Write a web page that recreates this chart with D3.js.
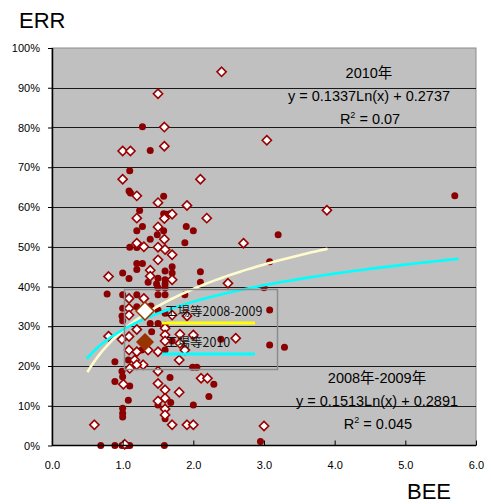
<!DOCTYPE html>
<html lang="ja">
<head>
<meta charset="UTF-8">
<title>BEE - ERR</title>
<script src="https://d3js.org/d3.v7.min.js"></script>
<style>
  body { margin: 0; background: #fff; }
  svg text { font-family: "Liberation Sans", Arial, "Noto Sans CJK JP", sans-serif; }
  .axis path { display: none; }
  .axis line { stroke: #000; }
  .axis text { font-size: 11px; fill: #000; font-family: "Liberation Sans", Arial, sans-serif; }
  .grid line { stroke: #1a1a1a; shape-rendering: crispEdges; }
  .note { font-size: 14.5px; fill: #000; }
  .legend text { font-size: 12.5px; fill: #111; font-family: "Noto Sans CJK JP", sans-serif; }
  .title { font-size: 22px; fill: #000; }
</style>
</head>
<body>
<svg id="chart" width="491" height="504"></svg>
<script>
// axis ticks
const xTicks = [0, 1, 2, 3, 4, 5, 6];
const yTicks = [0, 10, 20, 30, 40, 50, 60, 70, 80, 90, 100];

// 工場等2008-2009 : [BEE, ERR %]
const data0809 = [
  [2.40,94.0],[1.50,88.5],[1.59,80.1],[1.00,74.1],[1.11,74.1],[1.59,75.3],[1.00,67.0],[2.10,67.0],
  [1.20,62.8],[1.50,61.1],[1.91,60.4],[2.19,57.2],[1.20,57.2],[1.70,58.2],[1.59,57.1],[1.50,55.0],
  [1.59,51.9],[2.71,50.9],[1.20,50.9],[1.30,50.0],[1.50,49.9],[3.04,76.8],[3.89,59.2],
  [1.60,49.3],[1.70,48.0],[1.50,46.7],[1.39,44.1],[0.80,42.5],[1.39,42.6],[1.70,41.7],[2.49,40.8],
  [1.09,37.0],[1.30,37.0],[1.09,34.5],[1.09,32.8],[1.70,32.8],[1.91,32.6],[1.60,29.5],[1.20,29.2],
  [0.80,27.5],[1.09,27.4],[1.60,27.8],[1.60,26.3],[1.81,28.0],[2.00,27.8],[1.81,25.7],[0.99,26.7],
  [2.60,27.0],[1.09,24.0],[1.20,23.6],[1.36,24.0],[1.50,23.6],[1.88,24.0],
  [1.17,21.5],[1.29,20.3],[1.20,20.3],[1.10,19.4],[1.50,18.7],[1.01,15.4],[1.50,15.6],[1.60,14.0],
  [1.80,13.4],[1.60,11.9],[1.50,11.2],[1.80,21.5],[2.11,16.9],[2.20,16.9],
  [1.60,9.2],[1.60,7.7],[0.60,5.2],[1.70,5.2],[1.91,5.2],[2.00,5.2],[3.00,4.9],[1.03,0.3]
];

// 工場等2010 : [BEE, ERR %]
const data2010 = [
  [1.28,80.2],[1.39,74.2],[1.10,69.1],[1.09,64.0],[1.11,63.5],[1.58,62.7],[1.24,59.1],[1.58,58.3],
  [1.62,58.2],[1.67,58.3],[1.28,55.1],[1.20,54.0],[1.58,54.0],[1.90,55.1],[2.00,54.0],[1.39,51.9],
  [1.49,53.0],[1.88,51.0],[1.10,49.9],[5.70,62.8],[3.20,53.0],
  [1.20,49.8],[1.20,45.8],[1.28,45.8],[1.20,44.3],[1.60,43.9],[1.70,45.0],[1.70,43.4],[1.00,43.4],
  [1.09,42.0],[1.50,42.1],[1.60,41.7],[1.48,40.6],[1.60,40.6],[1.36,41.1],[2.10,43.7],[2.10,41.1],
  [0.78,38.1],[1.00,37.9],[1.20,37.9],[1.50,37.9],[1.60,37.9],[1.50,39.7],[1.60,39.7],[1.88,37.9],
  [3.08,46.2],[3.00,39.7],
  [1.00,34.5],[0.99,32.6],[1.00,31.4],[1.20,34.9],[1.40,35.1],[1.50,34.1],[1.60,33.3],[1.39,30.7],
  [1.50,30.7],[1.60,30.3],[1.41,28.6],[1.70,26.3],[1.27,24.0],[1.60,24.0],[3.08,34.1],[2.39,26.7],
  [3.08,25.3],[3.29,24.7],
  [0.89,21.1],[1.08,21.5],[0.99,18.7],[0.89,16.1],[1.00,17.3],[1.10,15.0],[1.67,17.1],[1.08,11.4],
  [1.50,10.2],[1.68,10.8],[2.00,10.2],[1.99,19.7],[2.05,19.7],[2.29,15.4],[2.22,12.3],
  [1.00,9.4],[1.00,8.1],[1.00,7.2],[1.60,6.7],
  [0.69,0],[0.89,0],[0.99,0],[1.03,0],[1.06,0],[1.10,0],[1.59,0],[2.95,1.0]
];

// log trendlines as drawn: y% = a*ln(x) + b, over [x0, x1]
const trendA = [15.13, 10.2];
const trendB = [28.91, 29.1];
const trendFrom = [0.5, 0.49];
const trendTo = [3.9, 5.75];

const legendLabels = ["工場等2008-2009", "工場等2010"];
const noteTitles = ["2010年", "2008年-2009年"];
const noteEquations = ["y = 0.1337Ln(x) + 0.2737", "y = 0.1513Ln(x) + 0.2891"];
const noteR2 = ["0.07", "0.045"];

const svg = d3.select("#chart");
const plot = {left: 52, right: 476, top: 48, bottom: 445.5};

const x = d3.scaleLinear().domain([0, 6]).range([plot.left, plot.right]);
const y = d3.scaleLinear().domain([0, 100]).range([plot.bottom, plot.top]);

// plot background
svg.append("rect")
    .attr("x", plot.left).attr("y", plot.top)
    .attr("width", plot.right - plot.left).attr("height", plot.bottom - plot.top)
    .attr("fill", "#c0c0c0")
    .attr("stroke", "#8c8c8c");

// gridlines
svg.append("g").attr("class", "grid")
  .selectAll("line")
  .data(yTicks.filter(d => d > 0 && d < 100))
  .enter().append("line")
    .attr("x1", plot.left).attr("x2", plot.right)
    .attr("y1", d => Math.round(y(d)) + 0.5)
    .attr("y2", d => Math.round(y(d)) + 0.5);

// 2010 circles
svg.append("g")
  .selectAll("circle")
  .data(data2010)
  .enter().append("circle")
    .attr("cx", d => x(d[0]))
    .attr("cy", d => y(d[1]))
    .attr("r", 3.5)
    .attr("fill", "#8b0000");

// 2008-2009 diamonds
const diamond = r => `M0,${-r}L${r},0L0,${r}L${-r},0Z`;
svg.append("g")
  .selectAll("path")
  .data(data0809)
  .enter().append("path")
    .attr("transform", d => `translate(${x(d[0])},${y(d[1])})`)
    .attr("d", diamond(4.6))
    .attr("fill", "#fff")
    .attr("stroke", "#990000")
    .attr("stroke-width", 1.6);

// trendlines
const trendColors = ["#fffbcc", "#00ffff"];
const line = d3.line().x(d => x(d[0])).y(d => y(d[1]));
trendA.forEach((a, i) => {
  const pts = d3.range(0, 61).map(k => {
    const xv = trendFrom[i] + (trendTo[i] - trendFrom[i]) * k / 60;
    return [xv, a * Math.log(xv) + trendB[i]];
  });
  svg.append("path")
      .datum(pts)
      .attr("d", line)
      .attr("fill", "none")
      .attr("stroke", trendColors[i])
      .attr("stroke-width", 2.6);
});

// axes
svg.append("line")
    .attr("x1", plot.left + 0.5).attr("x2", plot.left + 0.5)
    .attr("y1", plot.top).attr("y2", plot.bottom)
    .attr("stroke", "#000").attr("stroke-width", 1.5);
svg.append("line")
    .attr("x1", plot.left).attr("x2", plot.right)
    .attr("y1", plot.bottom).attr("y2", plot.bottom)
    .attr("stroke", "#000").attr("stroke-width", 1.5);

svg.append("g")
    .attr("class", "axis")
    .attr("transform", `translate(${plot.left},0)`)
    .call(d3.axisLeft(y).tickValues(yTicks).tickSize(4).tickPadding(8).tickFormat(d => d + "%"));

svg.append("g")
    .attr("class", "axis")
    .attr("transform", `translate(0,${plot.bottom})`)
    .call(d3.axisBottom(x).tickValues(xTicks).tickSizeInner(-5).tickSizeOuter(0).tickPadding(16).tickFormat(d3.format(".1f")));

// axis titles
svg.append("text").attr("class", "title").attr("x", 19).attr("y", 28).text("ERR");
svg.append("text").attr("class", "title").attr("x", 407).attr("y", 499).text("BEE");

// legend
const legend = svg.append("g").attr("class", "legend");
legend.append("rect")
    .attr("x", 124.5).attr("y", 289.5).attr("width", 153).attr("height", 80)
    .attr("fill", "none").attr("stroke", "#8c8c8c").attr("stroke-width", 1.5);

const legendMarks = [
  {fill: "#fff", stroke: "#993300", r: 9, line: "#ffff00"},
  {fill: "#993300", stroke: "#993300", r: 8, line: "#00ffff"}
];
legendLabels.forEach((label, i) => {
  const cy = 311 + i * 31;
  legend.append("path")
      .attr("transform", `translate(145,${cy})`)
      .attr("d", diamond(legendMarks[i].r))
      .attr("fill", legendMarks[i].fill)
      .attr("stroke", legendMarks[i].stroke)
      .attr("stroke-width", 1.5);
  legend.append("text")
      .attr("x", 165).attr("y", cy + 5)
      .text(label);
  legend.append("line")
      .attr("x1", 162).attr("x2", 255)
      .attr("y1", cy + 12).attr("y2", cy + 12)
      .attr("stroke", legendMarks[i].line)
      .attr("stroke-width", 3);
});

// trendline notes
const notePos = [{cx: 369, top: 78}, {cx: 377, top: 383}];
noteTitles.forEach((t, i) => {
  const p = notePos[i];
  svg.append("text").attr("class", "note").attr("text-anchor", "middle")
      .attr("x", p.cx).attr("y", p.top).text(t);
  svg.append("text").attr("class", "note").attr("text-anchor", "middle")
      .attr("x", p.cx).attr("y", p.top + 23).text(noteEquations[i]);
  const r2 = svg.append("text").attr("class", "note").attr("text-anchor", "middle")
      .attr("x", p.cx + 1).attr("y", p.top + 46);
  r2.append("tspan").text("R");
  r2.append("tspan").attr("dy", -6).attr("font-size", "9px").text("2");
  r2.append("tspan").attr("dy", 6).text(" = " + noteR2[i]);
});
</script>
</body>
</html>
